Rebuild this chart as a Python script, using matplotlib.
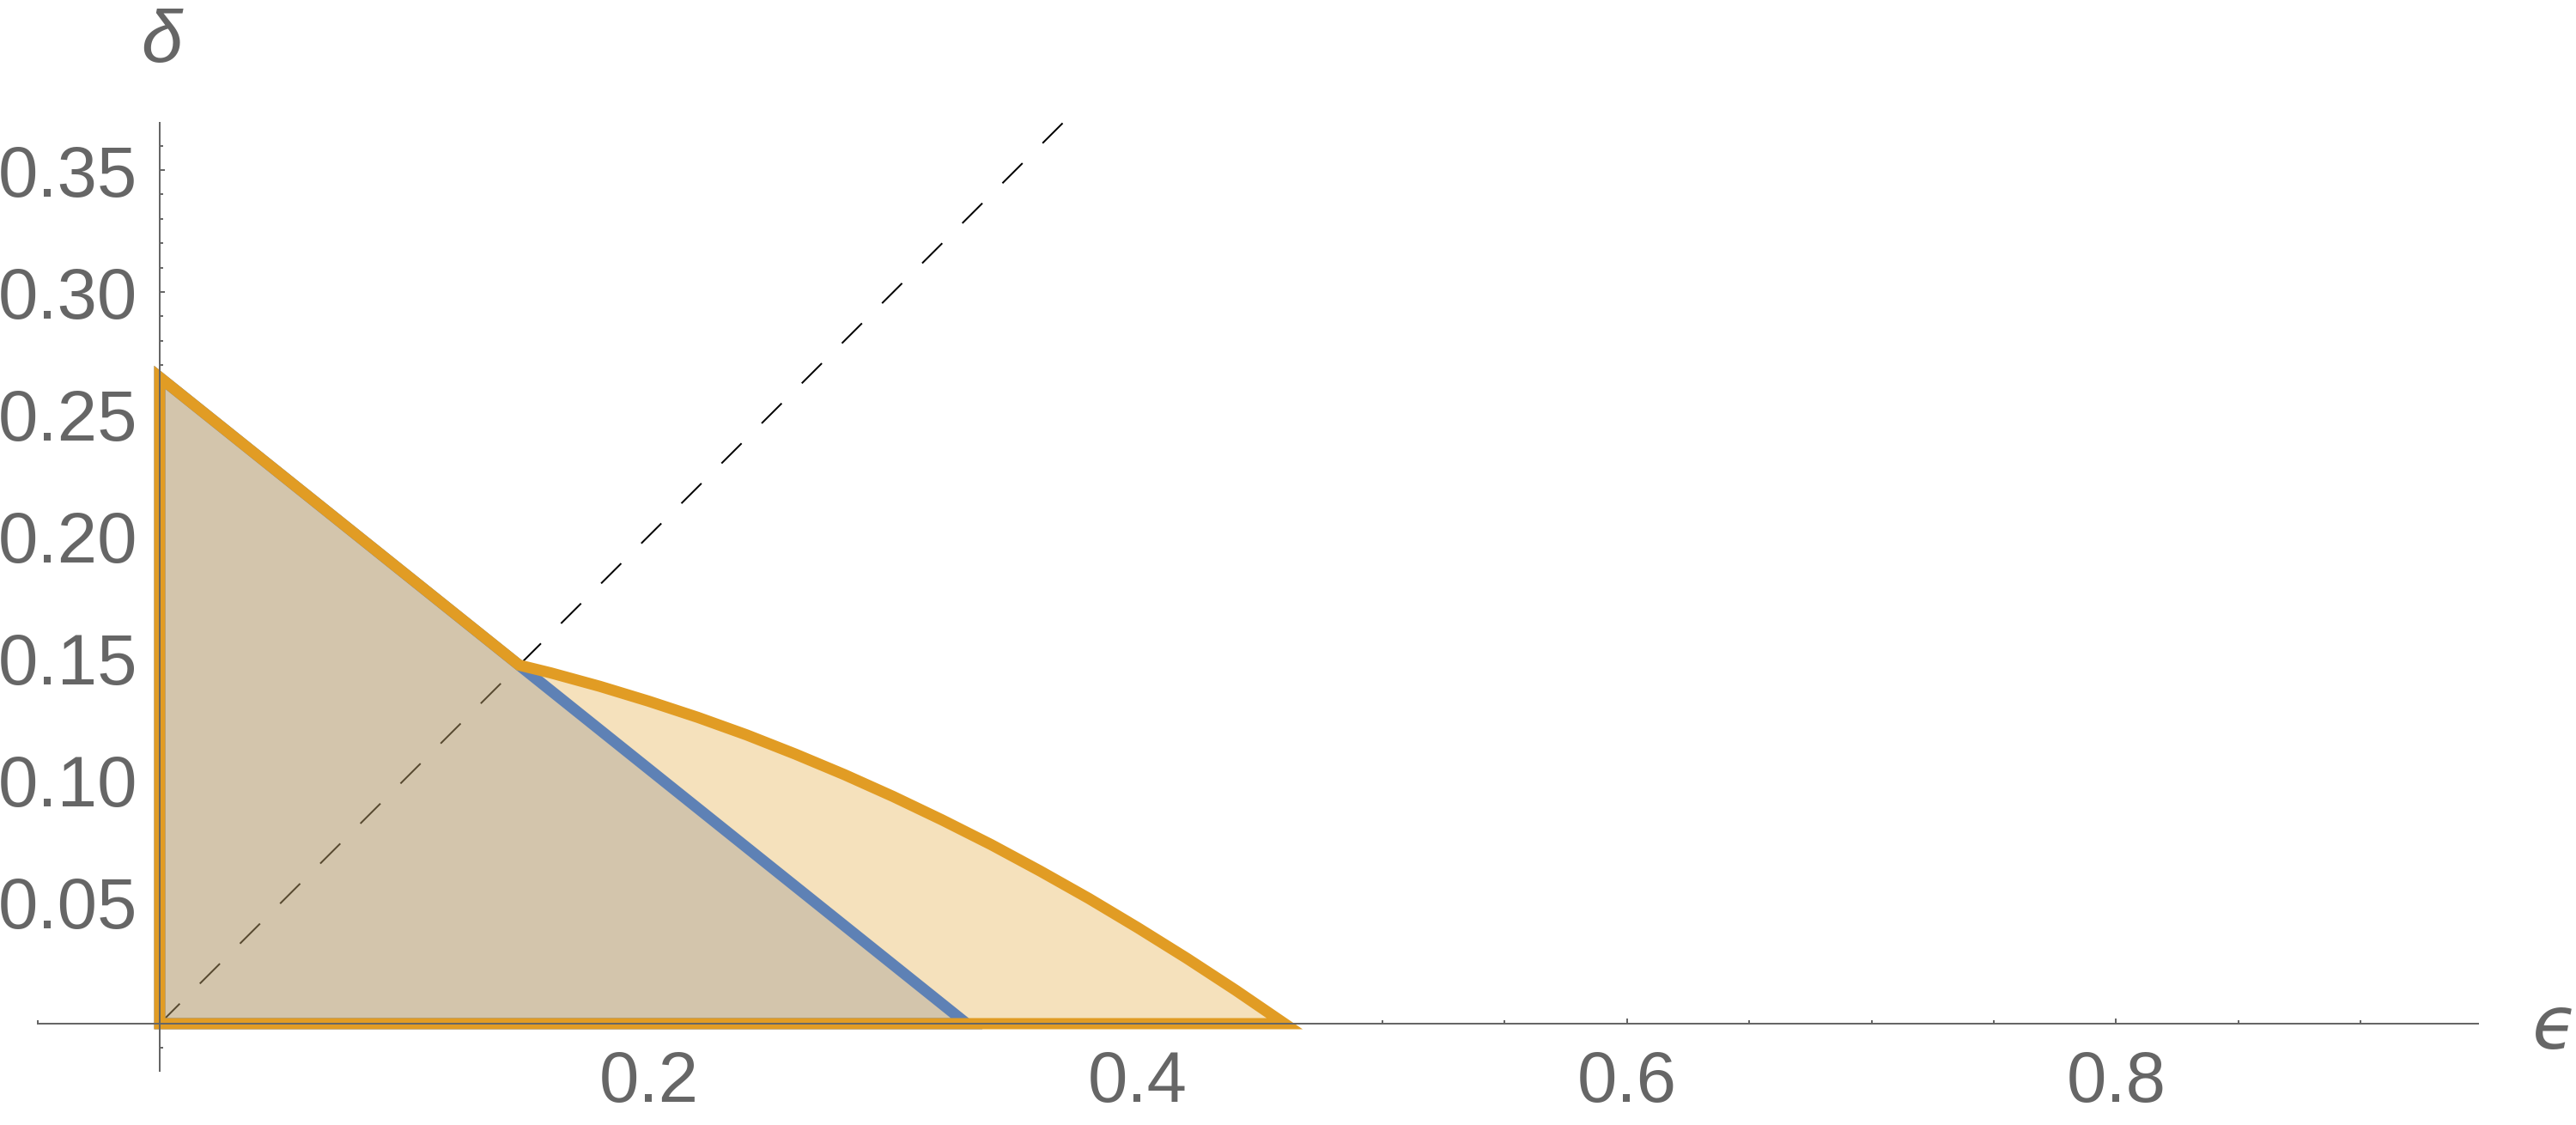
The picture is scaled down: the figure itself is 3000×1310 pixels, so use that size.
import matplotlib
matplotlib.use("Agg")
import matplotlib.pyplot as plt
from matplotlib.ticker import FixedLocator

plt.rcParams['font.family'] = ['Liberation Sans', 'DejaVu Sans']

# data
blue_eps = [0, 0, 0.33]
blue_delta = [0, 0.265, 0]

orange_eps = [0, 0, 0.147, 0.16, 0.18, 0.20, 0.22, 0.24, 0.26, 0.28, 0.30,
              0.32, 0.34, 0.36, 0.38, 0.40, 0.42, 0.44, 0.46]
orange_delta = [0, 0.265, 0.147, 0.1438, 0.1383, 0.1322, 0.1256, 0.1184, 0.1105, 0.1021, 0.0931,
                0.0835, 0.0734, 0.0626, 0.0513, 0.0393, 0.0268, 0.0137, 0]

diag_eps = [0, 0.37]
diag_delta = [0, 0.37]

x_ticks = [0.2, 0.4, 0.6, 0.8]
x_labels = ['0.2', '0.4', '0.6', '0.8']
y_ticks = [0.05, 0.10, 0.15, 0.20, 0.25, 0.30, 0.35]
y_labels = ['0.05', '0.10', '0.15', '0.20', '0.25', '0.30', '0.35']

DPI = 100
PX = 72 / DPI  # points per pixel
W, H = 3000, 1310

blue = '#5E81B5'
orange = '#E19C24'
gray = '#666666'

fig = plt.figure(figsize=(W / DPI, H / DPI), dpi=DPI)
ax = fig.add_axes([0, 0, 1, 1])

# pixel placement of the origin and scale
x0, y0 = 186, 1192
sx, sy = 2848, 2840
ax.set_xlim(-x0 / sx, (W - x0) / sx)
ax.set_ylim(-(H - y0) / sy, y0 / sy)

# dashed diagonal under the regions
lw_d = 2 * PX
ax.plot(diag_eps, diag_delta, color='black', lw=lw_d,
        linestyle=(0, (33 * PX / lw_d, 33 * PX / lw_d)), zorder=1)

# fills
ax.fill(blue_eps, blue_delta, facecolor=blue, alpha=0.3, edgecolor='none', zorder=2)
ax.fill(orange_eps, orange_delta, facecolor=orange, alpha=0.3, edgecolor='none', zorder=3)

# outlines
ax.fill(blue_eps, blue_delta, facecolor='none', edgecolor=blue, lw=13 * PX,
        joinstyle='miter', zorder=4)
ax.fill(orange_eps, orange_delta, facecolor='none', edgecolor=orange, lw=13 * PX,
        joinstyle='miter', zorder=5)

# axes through the origin
for s in ['top', 'right']:
    ax.spines[s].set_visible(False)
ax.spines['left'].set_position(('data', 0))
ax.spines['bottom'].set_position(('data', 0))
ax.spines['left'].set_bounds(-0.0194, 0.3694)
ax.spines['bottom'].set_bounds(-0.05, 0.948)
for s in ['left', 'bottom']:
    ax.spines[s].set_color(gray)
    ax.spines[s].set_linewidth(2 * PX)
    ax.spines[s].set_zorder(6)

ax.set_xticks(x_ticks)
ax.set_xticklabels(x_labels)
ax.set_yticks(y_ticks)
ax.set_yticklabels(y_labels)
ax.xaxis.set_minor_locator(FixedLocator([-0.05, 0.05, 0.1, 0.15, 0.25, 0.3, 0.35, 0.45,
                                         0.5, 0.55, 0.65, 0.7, 0.75, 0.85, 0.9]))
ax.yaxis.set_minor_locator(FixedLocator([v / 100 for v in range(-1, 37) if v % 5 != 0]))

ax.tick_params(which='major', direction='in', length=6 * PX, width=2 * PX, color=gray,
               labelcolor=gray, labelsize=60)
ax.tick_params(which='minor', direction='in', length=4 * PX, width=2 * PX, color=gray)
ax.tick_params(axis='x', which='major', pad=30 * PX)
ax.tick_params(axis='y', which='major', pad=26 * PX)

# axis labels
fig.text(188 / W, 1 - 50 / H, 'δ', fontsize=62, style='italic', color=gray,
         ha='center', va='center')
fig.text(2975 / W, 1 - 1198 / H, 'ϵ', fontsize=62, style='italic', color=gray,
         family=['DejaVu Sans'], ha='center', va='center')

fig.savefig('out.png', dpi=DPI)
